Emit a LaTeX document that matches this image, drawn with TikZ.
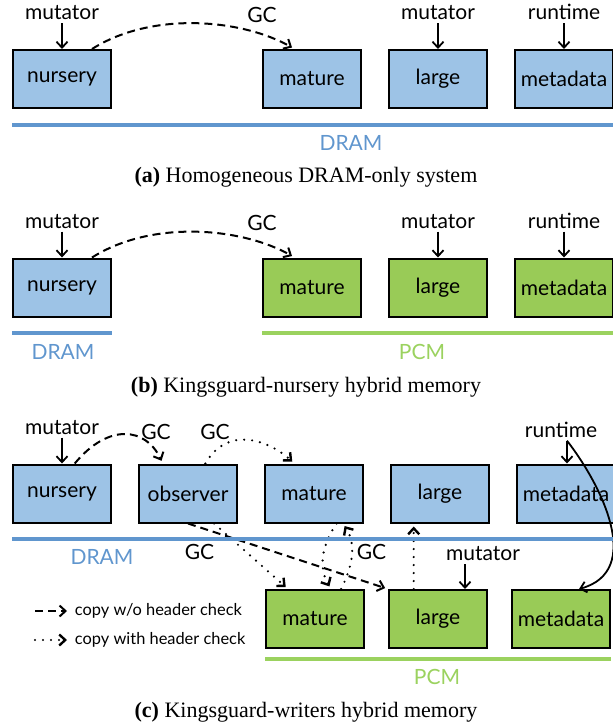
\documentclass[tikz,border=0pt]{standalone}
\usepackage{fontspec}
\setmainfont{Lato}
\newfontfamily\capfont{Liberation Serif}
\usepackage{tikz}
\usetikzlibrary{positioning, arrows.meta, calc}
\definecolor{dramfill}{RGB}{157,195,230}
\definecolor{dramblue}{RGB}{96,150,206}
\definecolor{pcmfill}{RGB}{153,203,87}
\definecolor{pcmgreen}{RGB}{155,210,95}
\tikzset{
  dramblock/.style={
    draw,
    rectangle,
    line width=1pt,
    minimum width=49pt,
    minimum height=29pt,
    inner sep=0pt,
    fill=dramfill,
    font=\fontsize{10.5}{12}\selectfont
  },
  pcmblock/.style={dramblock, fill=pcmfill},
  tag/.style={inner sep=1pt, font=\fontsize{10.5}{12}\selectfont},
  legtext/.style={inner sep=1pt, anchor=west, font=\fontsize{8.2}{10}\selectfont},
  caption/.style={font=\capfont\fontsize{11}{13}\selectfont},
  dramline/.style={draw=dramblue, line width=2pt},
  pcmline/.style={draw=pcmgreen, line width=2pt},
  gcdash/.style={->, line width=1pt, dash pattern=on 4pt off 2.5pt, shorten >=1.5pt},
  gcdot/.style={->, line width=1.2pt, dash pattern=on 0pt off 4pt, line cap=round, shorten >=1.5pt}
}

\begin{document}
\begin{tikzpicture}[x=0.5pt, y=-0.5pt, >={Straight Barb[length=3pt,width=5.5pt]}, line width=0.9pt]
    \useasboundingbox (0,0) rectangle (613,725);

    % (a) homogeneous
    \node[dramblock] (nursA) at (62,79) {nursery};
    \node[dramblock, right=75pt of nursA] (matA) {mature};
    \node[dramblock, right=13pt of matA] (lrgA) {large};
    \node[dramblock, right=13pt of lrgA] (metaA) {metadata};
    \node[tag, above=13pt of nursA] (mutA) {mutator};
    \node[tag, above=13pt of lrgA] (mutA2) {mutator};
    \node[tag, above=13pt of metaA] (rtA) {runtime};
    \node[tag] (gcA) at (262,15) {GC};
    \draw[->] (mutA) -- (nursA);
    \draw[->] (mutA2) -- (lrgA);
    \draw[->] (rtA) -- (metaA);
    \draw[gcdash] (nursA.45) .. controls +(60,-38) and +(-53,-30) .. (matA.120);
    \draw[dramline] ([yshift=-8pt]nursA.south west) -- ([yshift=-8pt]metaA.south east);
    \node[tag, text=dramblue] (dramA) at (351,143) {DRAM};
    \node[caption] (capA) at (306,177) {\textbf{(a)} Homogeneous DRAM-only system};

    % (b) kingsguard-nursery
    \node[dramblock] (nursB) at (62,287.5) {nursery};
    \node[pcmblock, right=75pt of nursB] (matB) {mature};
    \node[pcmblock, right=13pt of matB] (lrgB) {large};
    \node[pcmblock, right=13pt of lrgB] (metaB) {metadata};
    \node[tag, above=13pt of nursB] (mutB) {mutator};
    \node[tag, above=13pt of lrgB] (mutB2) {mutator};
    \node[tag, above=13pt of metaB] (rtB) {runtime};
    \node[tag] (gcB) at (262,223) {GC};
    \draw[->] (mutB) -- (nursB);
    \draw[->] (mutB2) -- (lrgB);
    \draw[->] (rtB) -- (metaB);
    \draw[gcdash] (nursB.45) .. controls +(60,-38) and +(-53,-30) .. (matB.120);
    \draw[dramline] ([yshift=-7.5pt]nursB.south west) -- ([yshift=-7.5pt]nursB.south east);
    \draw[pcmline] ([yshift=-7.5pt]matB.south west) -- ([yshift=-7.5pt]metaB.south east);
    \node[tag, text=dramblue] (dramB) at (63,352) {DRAM};
    \node[tag, text=pcmgreen] (pcmB) at (422,352) {PCM};
    \node[caption] (capB) at (306,387) {\textbf{(b)} Kingsguard-nursery hybrid memory};

    % (c) kingsguard-writers
    \node[dramblock] (nursC) at (62,493.5) {nursery};
    \node[dramblock, right=13pt of nursC] (obsC) {observer};
    \node[dramblock, right=13pt of obsC] (matC) {mature};
    \node[dramblock, right=13pt of matC] (lrgC) {large};
    \node[dramblock, right=13pt of lrgC] (metaC) {metadata};
    \node[pcmblock] (matG) at (315,619) {mature};
    \node[pcmblock, right=11.5pt of matG] (lrgG) {large};
    \node[pcmblock, right=11.5pt of lrgG] (metaG) {metadata};
    \node[tag, above=13pt of nursC] (mutC) {mutator};
    \node[tag] (rtC) at (561,430) {runtime};
    \node[tag] (mutG) at (483,554) {mutator};
    \node[tag] (gcC1) at (156,432) {GC};
    \node[tag] (gcC2) at (215,432) {GC};
    \node[tag] (gcC3) at (199.5,552) {GC};
    \node[tag] (gcC4) at (371.5,552) {GC};
    \draw[->] (mutC) -- (nursC);
    \draw[->] ([xshift=3pt]rtC.south) -- ([xshift=3pt]rtC.south |- metaC.north);
    \draw[->] ([xshift=3pt]rtC.south) .. controls +(35,45) and +(65,-18) .. (metaG.59);
    \draw[->] ([xshift=-9pt]mutG.south) -- ([xshift=-9pt]mutG.south |- lrgG.north);
    \draw[gcdash] (nursC.67) .. controls +(34,-41) and +(-17,-36) .. (obsC.130);
    \draw[gcdot] (obsC.60) .. controls +(22,-38) and +(-27,-24) .. (matC.123);
    \draw[gcdash] (obsC.south) -- (lrgG.north west);
    \draw[gcdot] (obsC.-49) -- (matG.132);
    \draw[gcdot] (matC.-53) .. controls +(-15,22) and +(-12.5,-22) .. (matG.62);
    \draw[gcdot] (matG.49) .. controls +(11,-22) and +(14,22) .. (matC.-46);
    \draw[gcdot] (lrgG.129) -- (lrgG.129 |- lrgC.south);
    \draw[dramline] ([yshift=-7.5pt]nursC.south west) -- ([yshift=-7.5pt]metaC.south east);
    \draw[pcmline] ([yshift=-5pt]matG.south west) -- ([yshift=-5pt]metaG.south east);
    \node[tag, text=dramblue] (dramC) at (102,557) {DRAM};
    \node[tag, text=pcmgreen] (pcmC) at (437,677) {PCM};

    % legend
    \node[legtext] (legDash) at (72,611) {copy w/o header check};
    \node[legtext] (legDot) at (72,640) {copy with header check};
    \draw[gcdash] ([xshift=-18.5pt]legDash.west) -- ([xshift=-1pt]legDash.west);
    \draw[gcdot] ([xshift=-18.5pt]legDot.west) -- ([xshift=-1pt]legDot.west);
    \node[caption] (capC) at (306,712) {\textbf{(c)} Kingsguard-writers hybrid memory};
\end{tikzpicture}
\end{document}
